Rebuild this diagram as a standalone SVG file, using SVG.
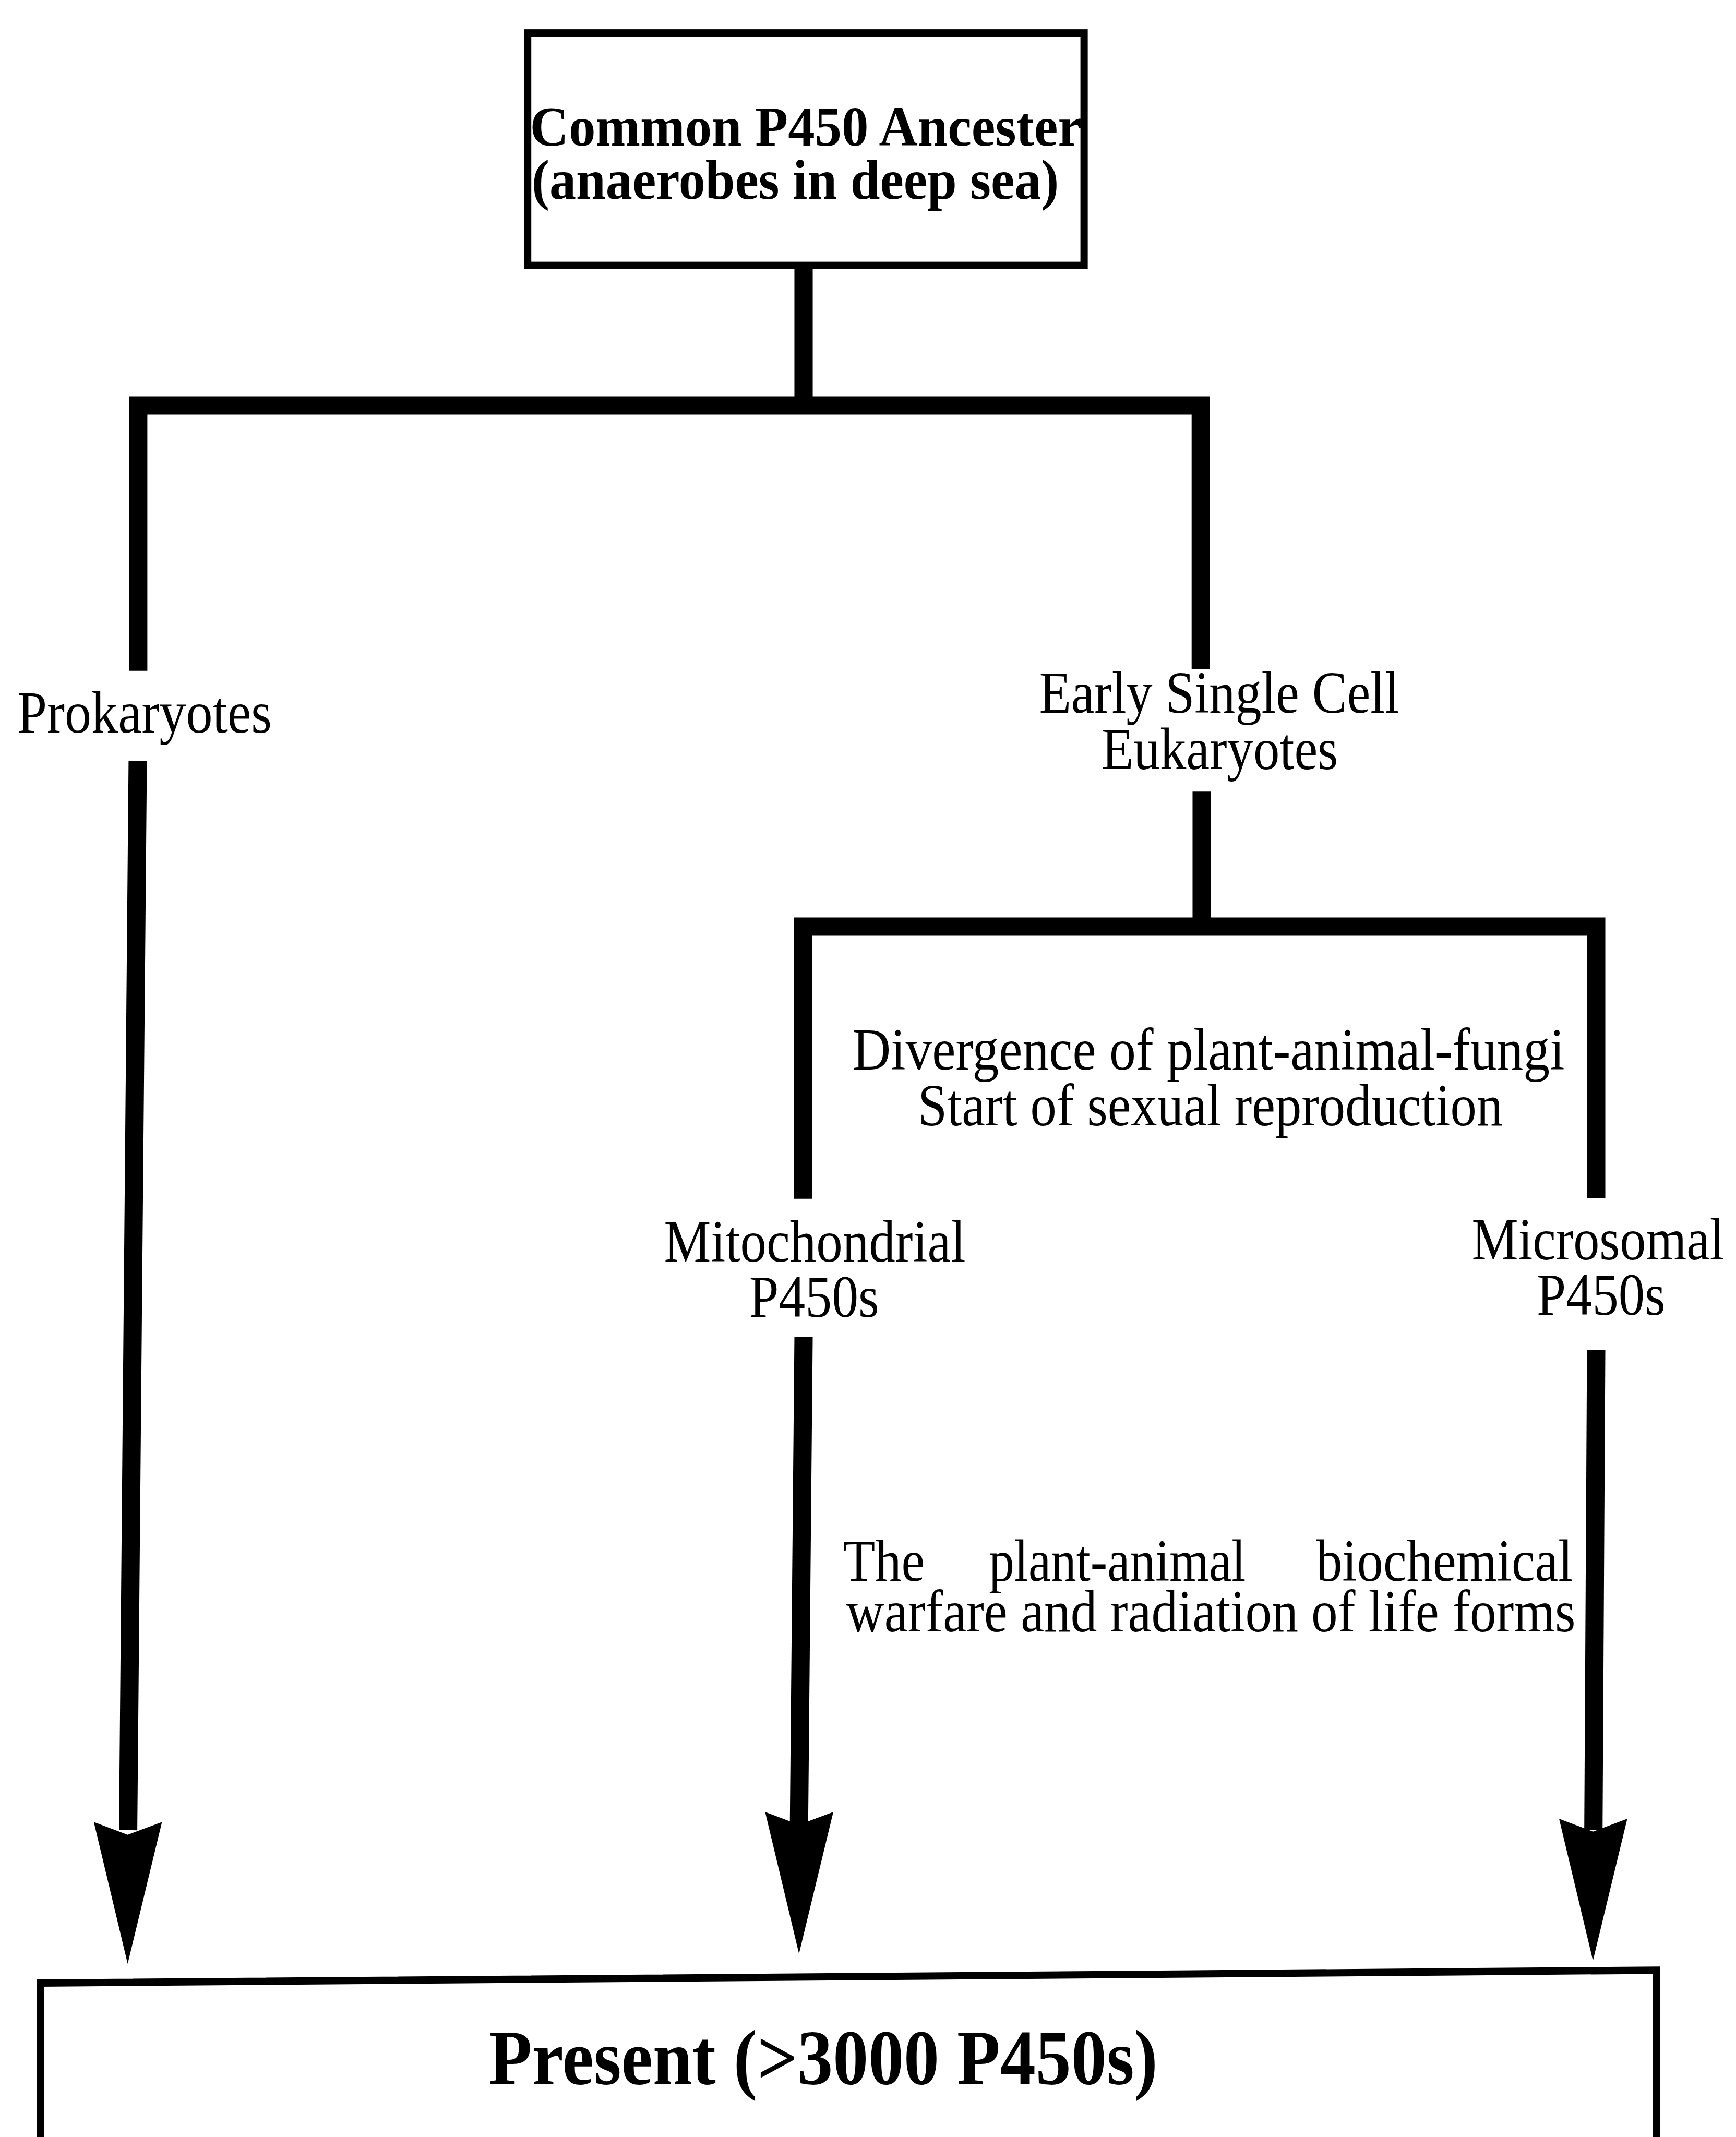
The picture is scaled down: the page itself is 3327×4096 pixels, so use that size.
<svg xmlns="http://www.w3.org/2000/svg" xmlns:xlink="http://www.w3.org/1999/xlink" width="3327" height="4096" viewBox="0 0 3327 4096">
<style>
.lbl{font-family:"Liberation Serif","Times New Roman",serif;font-size:130px;fill:#000}
.bold{font-family:"Liberation Serif","Times New Roman",serif;font-weight:bold;fill:#000}
.conn{fill:none;stroke:#000;stroke-width:40;stroke-linejoin:miter;stroke-linecap:butt}
.box{fill:#fff;stroke:#000;stroke-width:16}
</style>
<defs>
<path id="ah" d="M-74,-310 L0,-282 L75,-310 L0,0 Z" fill="#000"/>
</defs>
<rect x="0" y="0" width="3327" height="4096" fill="#fff"/>
<g transform="scale(0.877)">
<g id="connectors">
<path class="conn" d="M1756,588 V886"/>
<path class="conn" d="M302,1466 V886 H2624 V1463"/>
<path class="conn" d="M2626,1730 V2025"/>
<path class="conn" d="M1755,2620 V2025 H3488 V2618"/>
<path class="conn" d="M301,1663 L280,4000"/>
<path class="conn" d="M1756,2922 L1746,3990"/>
<path class="conn" d="M3488,2950 L3482,4000"/>
<use xlink:href="#ah" href="#ah" x="279" y="4292"/>
<use xlink:href="#ah" href="#ah" x="1746" y="4270"/>
<use xlink:href="#ah" href="#ah" x="3481" y="4285"/>
</g>
<g id="ancestor">
<rect class="box" x="1153" y="72" width="1216" height="508"/>
<text class="bold" font-size="124" x="1158" y="318" textLength="1206" lengthAdjust="spacingAndGlyphs">Common P450 Ancester</text>
<text class="bold" font-size="124" x="1162" y="434" textLength="1152" lengthAdjust="spacingAndGlyphs">(anaerobes in deep sea)</text>
</g>
<g id="prokaryotes">
<text class="lbl" x="38" y="1601" textLength="556" lengthAdjust="spacingAndGlyphs">Prokaryotes</text>
</g>
<g id="eukaryotes">
<text class="lbl" x="2271" y="1558" textLength="787" lengthAdjust="spacingAndGlyphs">Early Single Cell</text>
<text class="lbl" x="2407" y="1681" textLength="517" lengthAdjust="spacingAndGlyphs">Eukaryotes</text>
</g>
<g id="divergence">
<text class="lbl" x="1863" y="2338" textLength="1556" lengthAdjust="spacingAndGlyphs">Divergence of plant-animal-fungi</text>
<text class="lbl" x="2006" y="2460" textLength="1278" lengthAdjust="spacingAndGlyphs">Start of sexual reproduction</text>
</g>
<g id="mitochondrial">
<text class="lbl" x="1451" y="2757" textLength="659" lengthAdjust="spacingAndGlyphs">Mitochondrial</text>
<text class="lbl" x="1637" y="2878" textLength="284" lengthAdjust="spacingAndGlyphs">P450s</text>
</g>
<g id="microsomal">
<text class="lbl" x="3216" y="2752" textLength="552" lengthAdjust="spacingAndGlyphs">Microsomal</text>
<text class="lbl" x="3358" y="2873" textLength="281" lengthAdjust="spacingAndGlyphs">P450s</text>
</g>
<g id="warfare">
<text class="lbl" x="1842" y="3455" textLength="179" lengthAdjust="spacingAndGlyphs">The</text>
<text class="lbl" x="2161" y="3455" textLength="561" lengthAdjust="spacingAndGlyphs">plant-animal</text>
<text class="lbl" x="2876" y="3455" textLength="561" lengthAdjust="spacingAndGlyphs">biochemical</text>
<text class="lbl" x="1849" y="3566" textLength="1594" lengthAdjust="spacingAndGlyphs">warfare and radiation of life forms</text>
</g>
<g id="present">
<path d="M88,4720 V4334 L3620,4306 V4720" fill="#fff" stroke="#000" stroke-width="16" stroke-linejoin="miter"/>
<text class="bold" font-size="172" x="1068" y="4555" textLength="1462" lengthAdjust="spacingAndGlyphs">Present (&gt;3000 P450s)</text>
</g>
</g>
</svg>
